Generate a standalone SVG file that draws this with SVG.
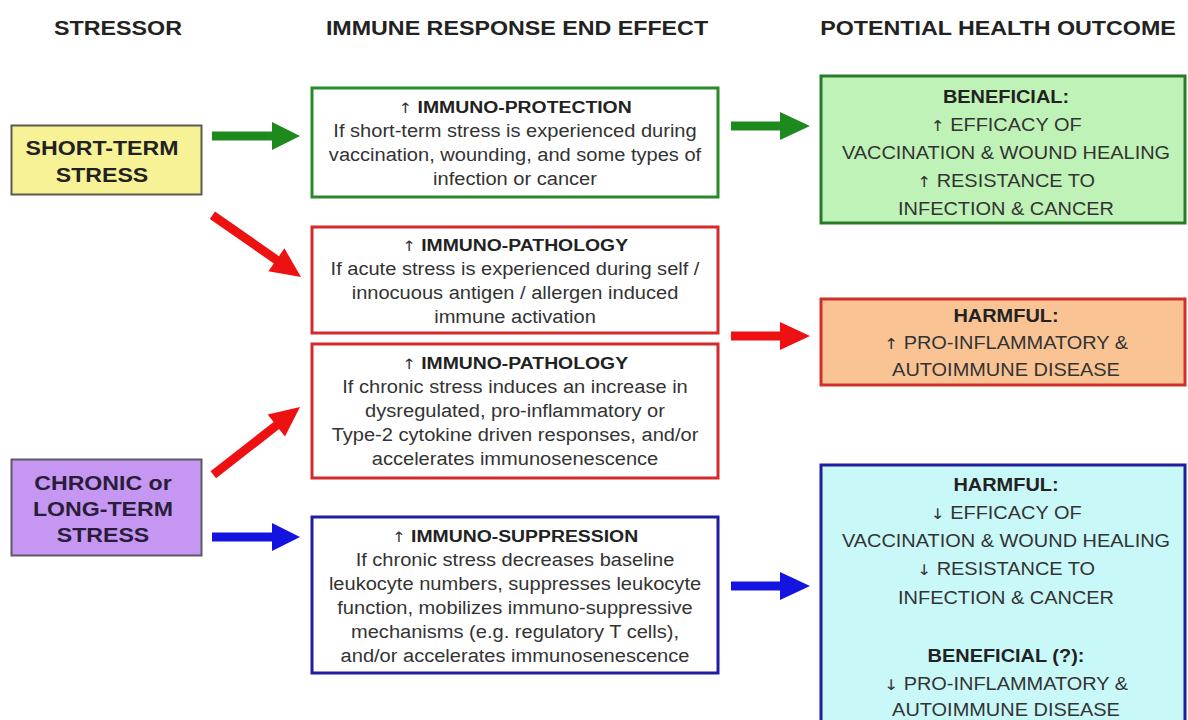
<svg xmlns="http://www.w3.org/2000/svg" width="1188" height="720" viewBox="0 0 1188 720">
  <style>
    text { font-family: "Liberation Sans", Arial, sans-serif; fill: #2b2b2b; text-anchor: middle; }
    .hdr { font-size: 20.4px; font-weight: bold; fill: #222; }
    .src { font-size: 20.3px; font-weight: bold; fill: #222; }
    .src2 { font-size: 20.3px; font-weight: bold; fill: #2a1d3a; }
    .ttl { font-size: 17px; font-weight: bold; fill: #222; }
    .body { font-size: 17.6px; fill: #333; }
    .out { font-size: 17.5px; fill: #333; }
    .outb { font-size: 17.5px; font-weight: bold; fill: #222; }
    .arw { font-family: "DejaVu Sans", sans-serif; font-weight: normal; font-size: 0.85em; fill: #333; }
    .box { stroke-width: 3; }
    .green { fill: #1e8a1e; }
    .red { fill: #ee1111; }
    .blue { fill: #1414e0; }
  </style>

  <rect width="1188" height="720" fill="#ffffff"/>

  <!-- column headers (type is set slightly wide via a horizontal scale) -->
  <g id="headers">
    <g transform="translate(118,0) scale(1.14,1)"><text class="hdr" x="0" y="35">STRESSOR</text></g>
    <g transform="translate(517,0) scale(1.14,1)"><text class="hdr" x="0" y="35">IMMUNE RESPONSE END EFFECT</text></g>
    <g transform="translate(998,0) scale(1.14,1)"><text class="hdr" x="0" y="35">POTENTIAL HEALTH OUTCOME</text></g>
  </g>

  <!-- stressors -->
  <g id="short-term">
    <rect x="11.5" y="125.5" width="190" height="69" fill="#f8f296" stroke="#5a5a50" stroke-width="2"/>
    <g transform="translate(102,0) scale(1.14,1)">
      <text class="src" x="0" y="155">SHORT-TERM</text>
      <text class="src" x="0" y="182">STRESS</text>
    </g>
  </g>
  <g id="chronic">
    <rect x="11.5" y="459.5" width="190" height="96" fill="#c597f2" stroke="#5a5a60" stroke-width="2"/>
    <g transform="translate(103,0) scale(1.14,1)">
      <text class="src2" x="0" y="490">CHRONIC or</text>
      <text class="src2" x="0" y="516">LONG-TERM</text>
      <text class="src2" x="0" y="542">STRESS</text>
    </g>
  </g>

  <!-- immune response end effects -->
  <g id="protection">
    <rect class="box" x="312" y="88" width="406" height="109" fill="#fff" stroke="#2a8a2a"/>
    <g transform="translate(515,0) scale(1.14,1)">
      <text class="ttl" x="0" y="113"><tspan class="arw">↑</tspan> IMMUNO-PROTECTION</text>
      <text class="body" x="0" y="137">If short-term stress is experienced during</text>
      <text class="body" x="0" y="161">vaccination, wounding, and some types of</text>
      <text class="body" x="0" y="185">infection or cancer</text>
    </g>
  </g>
  <g id="pathology-acute">
    <rect class="box" x="312" y="227" width="406" height="106" fill="#fff" stroke="#d42a2a"/>
    <g transform="translate(515,0) scale(1.14,1)">
      <text class="ttl" x="0" y="251"><tspan class="arw">↑</tspan> IMMUNO-PATHOLOGY</text>
      <text class="body" x="0" y="275">If acute stress is experienced during self /</text>
      <text class="body" x="0" y="299">innocuous antigen / allergen induced</text>
      <text class="body" x="0" y="323">immune activation</text>
    </g>
  </g>
  <g id="pathology-chronic">
    <rect class="box" x="312" y="344" width="406" height="134" fill="#fff" stroke="#d42a2a"/>
    <g transform="translate(515,0) scale(1.14,1)">
      <text class="ttl" x="0" y="369"><tspan class="arw">↑</tspan> IMMUNO-PATHOLOGY</text>
      <text class="body" x="0" y="393">If chronic stress induces an increase in</text>
      <text class="body" x="0" y="417">dysregulated, pro-inflammatory or</text>
      <text class="body" x="0" y="441">Type-2 cytokine driven responses, and/or</text>
      <text class="body" x="0" y="465">accelerates immunosenescence</text>
    </g>
  </g>
  <g id="suppression">
    <rect class="box" x="312" y="517" width="406" height="156" fill="#fff" stroke="#1e1e9e"/>
    <g transform="translate(515,0) scale(1.14,1)">
      <text class="ttl" x="0" y="542"><tspan class="arw">↑</tspan> IMMUNO-SUPPRESSION</text>
      <text class="body" x="0" y="566">If chronic stress decreases baseline</text>
      <text class="body" x="0" y="590">leukocyte numbers, suppresses leukocyte</text>
      <text class="body" x="0" y="614">function, mobilizes immuno-suppressive</text>
      <text class="body" x="0" y="638">mechanisms (e.g. regulatory T cells),</text>
      <text class="body" x="0" y="662">and/or accelerates immunosenescence</text>
    </g>
  </g>

  <!-- health outcomes -->
  <g id="beneficial">
    <rect class="box" x="821" y="76" width="364" height="147" fill="#bff2b6" stroke="#2a7a2a"/>
    <g transform="translate(1006,0) scale(1.14,1)">
      <text class="outb" x="0" y="103">BENEFICIAL:</text>
      <text class="out" x="0" y="131"><tspan class="arw">↑</tspan> EFFICACY OF</text>
      <text class="out" x="0" y="159">VACCINATION &amp; WOUND HEALING</text>
      <text class="out" x="0" y="187"><tspan class="arw">↑</tspan> RESISTANCE TO</text>
      <text class="out" x="0" y="215">INFECTION &amp; CANCER</text>
    </g>
  </g>
  <g id="harmful-inflammatory">
    <rect class="box" x="821" y="299" width="364" height="86" fill="#f9c394" stroke="#d0302a"/>
    <g transform="translate(1006,0) scale(1.14,1)">
      <text class="outb" x="0" y="322">HARMFUL:</text>
      <text class="out" x="0" y="349"><tspan class="arw">↑</tspan> PRO-INFLAMMATORY &amp;</text>
      <text class="out" x="0" y="376">AUTOIMMUNE DISEASE</text>
    </g>
  </g>
  <g id="harmful-suppressed">
    <rect class="box" x="821" y="465" width="364" height="270" fill="#c9f8f8" stroke="#1e1e9e"/>
    <g transform="translate(1006,0) scale(1.14,1)">
      <text class="outb" x="0" y="491">HARMFUL:</text>
      <text class="out" x="0" y="519"><tspan class="arw">↓</tspan> EFFICACY OF</text>
      <text class="out" x="0" y="547">VACCINATION &amp; WOUND HEALING</text>
      <text class="out" x="0" y="575"><tspan class="arw">↓</tspan> RESISTANCE TO</text>
      <text class="out" x="0" y="604">INFECTION &amp; CANCER</text>
      <text class="outb" x="0" y="662">BENEFICIAL (?):</text>
      <text class="out" x="0" y="690"><tspan class="arw">↓</tspan> PRO-INFLAMMATORY &amp;</text>
      <text class="out" x="0" y="716">AUTOIMMUNE DISEASE</text>
    </g>
  </g>

  <!-- block arrows, each drawn with its tip at the local origin -->
  <g id="connectors">
    <path class="green" transform="translate(300,136)" d="M-88,-4.5 H-28 V-14 L0,0 L-28,14 V4.5 H-88 Z"/>
    <path class="green" transform="translate(810,126)" d="M-79,-4.5 H-30 V-14 L0,0 L-30,14 V4.5 H-79 Z"/>
    <path class="red" transform="translate(301,277) rotate(34.9)" d="M-108,-4.5 H-30 V-14 L0,0 L-30,14 V4.5 H-108 Z"/>
    <path class="red" transform="translate(300,407) rotate(-38)" d="M-110,-4.5 H-30 V-14 L0,0 L-30,14 V4.5 H-110 Z"/>
    <path class="red" transform="translate(810,336)" d="M-79,-4.5 H-30 V-14 L0,0 L-30,14 V4.5 H-79 Z"/>
    <path class="blue" transform="translate(300,537)" d="M-88,-4.5 H-28 V-14 L0,0 L-28,14 V4.5 H-88 Z"/>
    <path class="blue" transform="translate(810,586)" d="M-79,-4.5 H-30 V-14 L0,0 L-30,14 V4.5 H-79 Z"/>
  </g>
</svg>
